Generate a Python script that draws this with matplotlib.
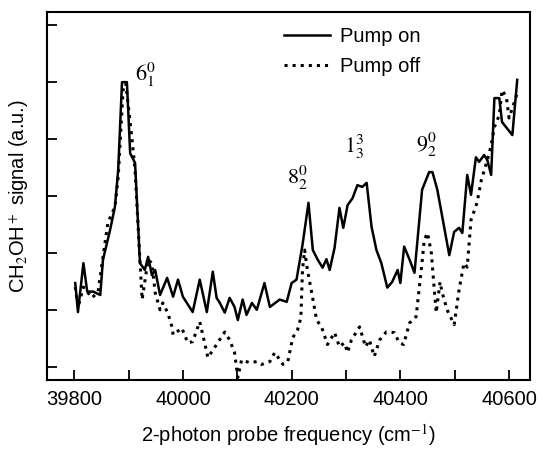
import matplotlib
matplotlib.use("Agg")
import matplotlib.pyplot as plt
from matplotlib.ticker import MultipleLocator

plt.rcParams['font.family'] = ['Liberation Sans', 'DejaVu Sans']
plt.rcParams['mathtext.fontset'] = 'stix'

# Pump on (solid)
on_x = [39802, 39807, 39817, 39824, 39835, 39848, 39853, 39866, 39875, 39881,
        39888, 39897, 39903, 39912, 39921, 39930, 39936, 39943, 39949, 39958,
        39971, 39982, 39991, 40000, 40018, 40031, 40044, 40055, 40062, 40068,
        40077, 40086, 40095, 40101, 40110, 40117, 40127, 40136, 40150, 40160,
        40178, 40191, 40200, 40209, 40220, 40231, 40239, 40248, 40257, 40264,
        40270, 40279, 40288, 40295, 40303, 40312, 40321, 40330, 40338, 40347,
        40356, 40365, 40376, 40385, 40395, 40400, 40407, 40417, 40426, 40440,
        40453, 40459, 40468, 40490, 40499, 40508, 40514, 40523, 40530, 40539,
        40545, 40554, 40560, 40567, 40573, 40582, 40587, 40606, 40615]
on_y = [1.47, 0.96, 1.82, 1.32, 1.32, 1.26, 1.88, 2.40, 2.81, 3.46,
        5.00, 5.00, 3.75, 3.58, 1.82, 1.70, 1.93, 1.61, 1.70, 1.26,
        1.56, 1.23, 1.53, 1.23, 0.96, 1.53, 0.96, 1.67, 1.21, 1.12,
        0.95, 1.21, 1.05, 0.82, 1.18, 0.91, 1.12, 1.00, 1.47, 1.05,
        1.18, 1.14, 1.47, 1.53, 2.14, 2.88, 2.05, 1.88, 1.74, 1.89,
        1.70, 2.09, 2.79, 2.44, 2.84, 2.96, 3.19, 3.16, 3.23, 2.46,
        2.05, 1.82, 1.39, 1.49, 1.70, 1.47, 2.11, 1.88, 1.65, 3.11,
        3.42, 3.42, 3.11, 1.96, 2.37, 2.44, 2.35, 3.37, 3.02, 3.68,
        3.60, 3.72, 3.63, 3.37, 4.72, 4.72, 4.30, 4.07, 5.04]

# Pump off (dotted)
off_x = [39802, 39807, 39817, 39833, 39844, 39862, 39875, 39881, 39890, 39895,
         39899, 39906, 39912, 39917, 39925, 39936, 39943, 39949, 39958, 39963,
         39972, 39980, 39982, 39998, 40009, 40018, 40031, 40040, 40046, 40053,
         40064, 40077, 40086, 40095, 40101, 40108, 40123, 40136, 40145, 40160,
         40169, 40184, 40193, 40202, 40211, 40217, 40220, 40224, 40229, 40237,
         40246, 40255, 40266, 40279, 40288, 40297, 40303, 40310, 40325, 40336,
         40343, 40352, 40362, 40374, 40389, 40398, 40406, 40417, 40429, 40439,
         40444, 40450, 40457, 40462, 40466, 40473, 40477, 40486, 40499, 40508,
         40517, 40523, 40530, 40541, 40549, 40560, 40567, 40573, 40582, 40587,
         40595, 40600, 40609, 40615]
off_y = [1.40, 1.04, 1.40, 1.21, 1.32, 2.53, 2.81, 3.33, 4.86, 4.98,
         4.63, 4.04, 3.46, 2.58, 1.18, 1.88, 1.82, 1.30, 1.00, 1.12,
         0.95, 0.70, 0.56, 0.68, 0.42, 0.44, 0.79, 0.42, 0.16, 0.26,
         0.42, 0.61, 0.47, 0.25, -0.19, 0.12, 0.07, 0.09, 0.04, 0.09,
         0.25, 0.04, 0.09, 0.51, 0.65, 0.86, 1.70, 2.05, 1.70, 1.30,
         0.82, 0.70, 0.39, 0.60, 0.35, 0.42, 0.25, 0.47, 0.70, 0.35,
         0.47, 0.18, 0.47, 0.61, 0.60, 0.42, 0.39, 0.77, 0.88, 1.75,
         2.23, 2.35, 2.00, 1.40, 0.95, 1.49, 1.30, 1.00, 0.74, 1.35,
         1.82, 1.75, 2.58, 2.88, 3.28, 3.63, 3.89, 4.21, 4.42, 4.86,
         4.74, 4.37, 4.63, 4.81]

peak_labels = [r'$6_1^0$', r'$8_2^0$', r'$1_3^3$', r'$9_2^0$']
peak_x = [39912, 40191, 40297, 40429]
peak_y = [5.12, 3.32, 3.86, 3.89]

fig = plt.figure(figsize=(5.4, 4.5), dpi=100)
ax = fig.add_axes([0.087, 0.156, 0.894, 0.817])

ax.plot(on_x, on_y, color='black', lw=1.8, ls='-', label='Pump on')
ax.plot(off_x, off_y, color='black', lw=2.2, ls=':', label='Pump off')

for lab, px, py in zip(peak_labels, peak_x, peak_y):
    ax.text(px, py, lab, fontsize=16, ha='left', va='center')

ax.set_xlim(39750, 40638)
ax.set_ylim(-0.23, 6.23)
ax.xaxis.set_major_locator(MultipleLocator(200))
ax.xaxis.set_minor_locator(MultipleLocator(100))
ax.set_yticks(range(0, 7))
ax.set_yticklabels([])
ax.tick_params(axis='both', which='both', direction='in', length=7, width=1.3,
               top=False, right=False, labelsize=14.5, pad=7)
for s in ax.spines.values():
    s.set_linewidth(1.5)

ax.set_xlabel('2-photon probe frequency (cm$^{-1}$)', fontsize=14.5, labelpad=10)
ax.set_ylabel('CH$_2$OH$^+$ signal (a.u.)', fontsize=14.5)
ax.yaxis.set_label_coords(-0.034, 0.5)

ax.legend(frameon=False, loc='upper left', bbox_to_anchor=(0.49, 0.96),
          fontsize=14.5, handlelength=2.3, handletextpad=0.5,
          labelspacing=0.55, borderpad=0, borderaxespad=0)

fig.savefig('out.png', dpi=100)
